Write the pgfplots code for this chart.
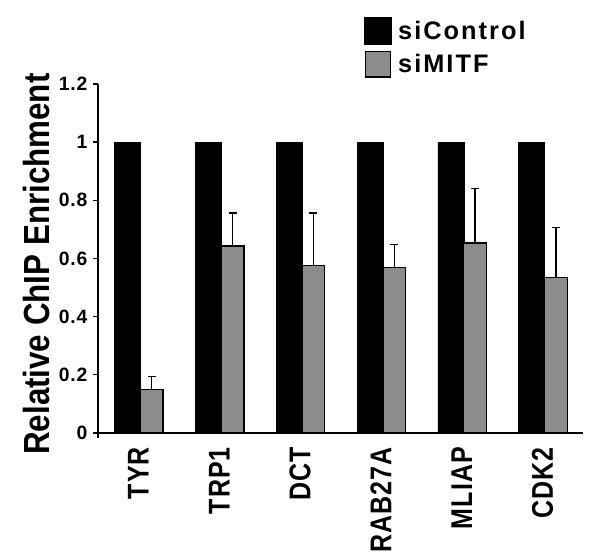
\documentclass[border=0pt]{standalone}
\usepackage{fontspec}
\setmainfont{Liberation Sans}
\usepackage{graphicx}
\usepackage{pgfplots}
\pgfplotsset{compat=1.18}
\definecolor{barGray}{RGB}{140,140,140}
\newcommand{\xl}[1]{\scalebox{1}[1.2]{#1}}

\begin{document}
\begin{tikzpicture}
\begin{axis}[
    scale only axis,
    width=363.75pt,
    height=261.75pt,
    xmin=0, xmax=6,
    ymin=0, ymax=1.2,
    axis x line*=bottom,
    axis y line*=left,
    axis line style={-, line width=1pt},
    tick align=outside,
    major tick length=3.75pt,
    tick style={line width=1pt, black},
    ytick={0,0.2,0.4,0.6,0.8,1,1.2},
    yticklabels={0,0.2,0.4,0.6,0.8,1,1.2},
    yticklabel style={font=\fontsize{14.5}{16}\selectfont\bfseries\addfontfeature{LetterSpace=4}, inner sep=2pt, xshift=-2pt},
    xtick={0},
    xticklabels={},
    extra x ticks={0.5,1.5,2.5,3.5,4.5,5.5},
    extra x tick labels={\xl{TYR},\xl{TRP1},\xl{DCT},\xl{RAB27A},\xl{MLIAP},\xl{CDK2}},
    extra x tick style={
        major tick length=0pt,
        tick label style={font=\fontsize{18.75}{20}\selectfont\bfseries\addfontfeature{LetterSpace=4}, yshift=-10.5pt, rotate=90, anchor=east, inner sep=0pt}
    },
    ylabel={\scalebox{1}[1.16]{Relative ChIP Enrichment}},
    ylabel style={font=\fontsize{23.5}{25}\selectfont\bfseries, at={(axis description cs:-0.099,0.484)}, anchor=south, inner sep=0pt},
    legend style={at={(axis description cs:0.5485,1.192)}, anchor=north west, draw=none, fill=none, inner sep=0pt, row sep=5pt,
        font=\fontsize{19}{21}\selectfont\bfseries\addfontfeature{LetterSpace=8},
        /tikz/every odd column/.append style={column sep=3pt}},
    legend cell align=left,
]
\addplot[ybar, bar width=0.32, bar shift=0pt, fill=black, draw=black,
    legend image code/.code={\draw[fill=black, draw=black] (0pt,-10pt) rectangle (20pt,10pt);}]
    coordinates {(0.365,1) (1.365,1) (2.365,1) (3.365,1) (4.365,1) (5.365,1)};
\addlegendentry{siControl}
\addplot[ybar, bar width=0.28, bar shift=0pt, fill=barGray, draw=black, line width=1pt,
    legend image code/.code={\draw[fill=barGray, draw=black, line width=1pt] (0.5pt,-9.5pt) rectangle (19.5pt,9.5pt);},
    error bars/.cd, y dir=plus, y explicit,
    error bar style={line width=1pt, black},
    error mark options={rotate=90, mark size=3pt, line width=1pt, black}]
    coordinates {
    (0.665,0.150) +- (0,0.045)
    (1.665,0.643) +- (0,0.114)
    (2.665,0.575) +- (0,0.182)
    (3.665,0.570) +- (0,0.079)
    (4.665,0.653) +- (0,0.187)
    (5.665,0.534) +- (0,0.172)
    };
\addlegendentry{siMITF}
\end{axis}
\pgfresetboundingbox
\path (current axis.south west) ++(-73.5pt,-95.25pt) coordinate (bbA);
\path (current axis.north east) ++(12.75pt,63pt) coordinate (bbB);
\path (bbA) rectangle (bbB);
\end{tikzpicture}
\end{document}
